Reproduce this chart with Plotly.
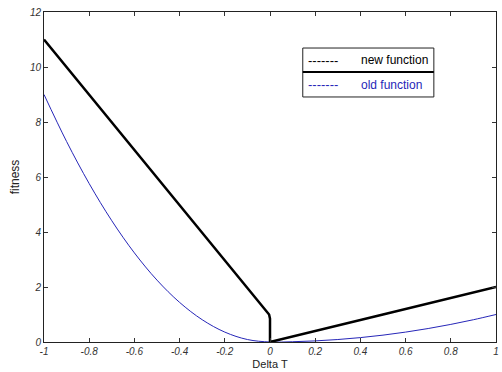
import plotly.graph_objects as go

# New function (black)
new_x = [-1.0, -0.5, -0.015, -0.004, 0.0, 0.0, 0.5, 1.0]
new_y = [11.0, 6.0, 1.15, 1.0, 0.85, 0.0, 1.0, 2.0]

# Old function (blue)
old_x = [-1.0, -0.9, -0.8, -0.7, -0.6, -0.5, -0.4, -0.3, -0.2, -0.1, 0.0,
         0.1, 0.2, 0.3, 0.4, 0.5, 0.6, 0.7, 0.8, 0.9, 1.0]
old_y = [9.0, 7.29, 5.76, 4.41, 3.24, 2.25, 1.44, 0.81, 0.36, 0.09, 0.0,
         0.01, 0.04, 0.09, 0.16, 0.25, 0.36, 0.49, 0.64, 0.81, 1.0]

x_ticks = [-1, -0.8, -0.6, -0.4, -0.2, 0, 0.2, 0.4, 0.6, 0.8, 1]
x_tick_labels = ["-1", "-0.8", "-0.6", "-0.4", "-0.2", "0", "0.2", "0.4", "0.6", "0.8", "1"]
y_ticks = [0, 2, 4, 6, 8, 10, 12]

legend_names = ["new function", "old function"]
legend_colors = ["#000000", "#2626b8"]

fig = go.Figure()
fig.add_trace(go.Scatter(x=old_x, y=old_y, mode="lines",
                         line=dict(color="#2626b8", width=1, shape="spline"),
                         showlegend=False, hoverinfo="skip"))
fig.add_trace(go.Scatter(x=new_x, y=new_y, mode="lines",
                         line=dict(color="#000000", width=2.5),
                         showlegend=False, hoverinfo="skip"))

FONT = "Liberation Sans, Arial, sans-serif"
tickfont = dict(family=FONT, size=10, color="#333333", style="italic")
axis_common = dict(showgrid=False, zeroline=False, showline=True, linecolor="#222222", linewidth=1,
                   mirror="ticks", ticks="inside", ticklen=4, tickcolor="#333333", tickfont=tickfont,
                   ticklabeloverflow="allow")

fig.update_layout(
    width=502, height=372,
    margin=dict(l=44, r=3, t=12, b=30),
    paper_bgcolor="white", plot_bgcolor="white",
    xaxis=dict(range=[-1, 1], tickvals=x_ticks, ticktext=x_tick_labels,
               title=dict(text="Delta T", standoff=4,
                          font=dict(family=FONT, size=11, color="#222222")),
               **axis_common),
    yaxis=dict(range=[0, 12], tickvals=y_ticks,
               title=dict(text="fitness", standoff=7,
                          font=dict(family=FONT, size=12, color="#222222")),
               **axis_common),
)

# Legend box drawn as shapes + text
fig.add_shape(type="rect", xref="x", yref="y", x0=0.145, x1=0.725, y0=8.91, y1=10.69,
              line=dict(color="#222222", width=1), fillcolor="white", layer="above")
fig.add_shape(type="line", xref="x", yref="y", x0=0.145, x1=0.725, y0=9.82, y1=9.82,
              line=dict(color="#000000", width=2), layer="above")
row_y = [10.25, 9.36]
for name, col, yy in zip(legend_names, legend_colors, row_y):
    fig.add_annotation(x=0.158, y=yy, xref="x", yref="y", text="-------", showarrow=False,
                       xanchor="left", yanchor="middle",
                       font=dict(family=FONT, size=13, color=col))
    fig.add_annotation(x=0.395, y=yy, xref="x", yref="y", text=name, showarrow=False,
                       xanchor="left", yanchor="middle",
                       font=dict(family=FONT, size=12, color=col))

fig.write_html("out.html", config={"displayModeBar": False},
               post_script="document.body.style.margin='0';document.body.style.overflow='hidden';")
